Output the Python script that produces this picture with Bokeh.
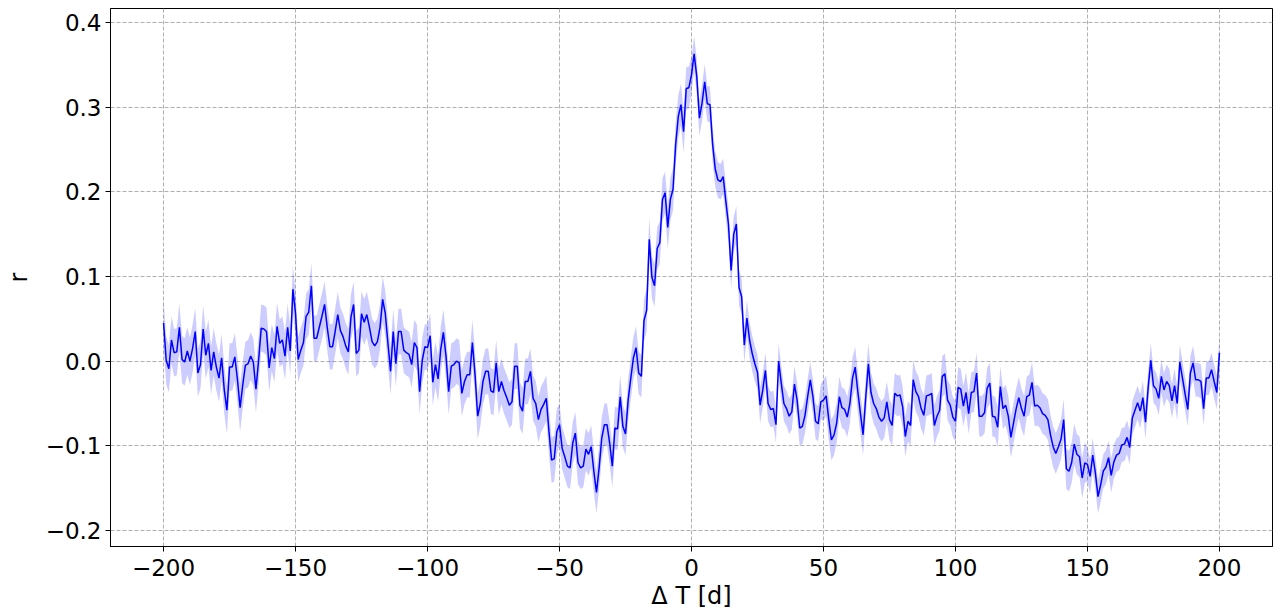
import numpy as np
from bokeh.plotting import figure
from bokeh.models import FixedTicker, Range1d
from bokeh.embed import file_html
from bokeh.resources import INLINE

# lag in days
days = list(range(-200, 201))

# correlation r per day
r_m200_m152 = [0.045, 0.001, -0.009, 0.025, 0.010, 0.011, 0.040, 0.002, -0.001, 0.012,
               0.000, 0.015, 0.035, -0.014, -0.004, 0.038, 0.007, 0.021, -0.011, 0.011,
               -0.007, -0.020, 0.004, -0.034, -0.058, -0.007, -0.007, 0.005, -0.022, -0.055,
               -0.028, -0.005, -0.003, 0.006, -0.001, -0.033, 0.001, 0.039, 0.038, 0.035,
               -0.008, 0.016, 0.003, 0.041, 0.021, 0.025, 0.006, 0.040, 0.012]
r_m151_m100 = [0.085, 0.056, 0.002, 0.013, 0.022, 0.053, 0.058, 0.089, 0.027, 0.027,
               0.040, 0.053, 0.067, 0.040, 0.017, 0.017, 0.035, 0.055, 0.036, 0.029,
               0.018, 0.011, 0.052, 0.067, 0.009, 0.013, 0.056, 0.046, 0.055, 0.040,
               0.023, 0.018, 0.023, 0.040, 0.073, 0.056, 0.021, -0.012, 0.035, -0.003,
               0.035, 0.035, 0.013, 0.010, 0.008, -0.004, 0.022, 0.016, -0.036, 0.001,
               0.017, 0.016]
r_m99_m51 = [0.030, -0.025, -0.004, -0.021, 0.014, 0.034, 0.006, -0.036, -0.006, -0.004,
             0.000, -0.002, -0.038, -0.024, -0.016, -0.016, 0.022, -0.016, -0.065, -0.050,
             -0.024, -0.012, -0.012, -0.035, -0.037, -0.002, -0.036, -0.024, -0.035, -0.043,
             -0.052, -0.048, -0.006, -0.006, -0.052, -0.059, -0.024, -0.024, -0.012, -0.044,
             -0.050, -0.069, -0.057, -0.051, -0.044, -0.083, -0.117, -0.115, -0.083]
r_m50_p1 = [-0.075, -0.103, -0.113, -0.124, -0.126, -0.097, -0.085, -0.120, -0.126, -0.124,
            -0.104, -0.110, -0.101, -0.130, -0.155, -0.126, -0.091, -0.075, -0.075, -0.097,
            -0.124, -0.079, -0.080, -0.042, -0.077, -0.086, -0.046, -0.020, 0.004, 0.016,
            -0.014, -0.018, 0.048, 0.060, 0.144, 0.099, 0.089, 0.133, 0.140, 0.191,
            0.199, 0.158, 0.191, 0.203, 0.256, 0.289, 0.303, 0.271, 0.322, 0.323,
            0.338, 0.363]
r_p2_p54 = [0.336, 0.287, 0.305, 0.330, 0.304, 0.303, 0.256, 0.227, 0.214, 0.212,
            0.218, 0.189, 0.162, 0.107, 0.150, 0.162, 0.087, 0.076, 0.019, 0.051,
            0.025, 0.009, -0.003, -0.013, -0.052, -0.034, -0.011, -0.050, -0.057, -0.056,
            -0.075, 0.000, -0.026, -0.050, -0.056, -0.065, -0.060, -0.027, -0.046, -0.079,
            -0.077, -0.064, -0.042, -0.022, -0.042, -0.071, -0.074, -0.048, -0.046, -0.041,
            -0.069, -0.093, -0.087]
r_p55_p105 = [-0.073, -0.042, -0.055, -0.057, -0.066, -0.050, -0.020, -0.007, -0.036, -0.062,
              -0.087, -0.043, -0.003, -0.037, -0.050, -0.056, -0.066, -0.071, -0.067, -0.048,
              -0.069, -0.076, -0.038, -0.041, -0.040, -0.054, -0.089, -0.071, -0.076, -0.022,
              -0.036, -0.042, -0.056, -0.064, -0.041, -0.040, -0.038, -0.076, -0.065, -0.058,
              -0.018, -0.015, -0.046, -0.052, -0.066, -0.071, -0.031, -0.033, -0.053, -0.037,
              -0.062]
r_p106_p156 = [-0.037, -0.036, -0.014, -0.065, -0.065, -0.061, -0.032, -0.026, -0.065, -0.066,
               -0.078, -0.030, -0.056, -0.052, -0.065, -0.090, -0.073, -0.056, -0.043, -0.056,
               -0.065, -0.042, -0.040, -0.025, -0.053, -0.052, -0.055, -0.062, -0.064, -0.069,
               -0.087, -0.101, -0.109, -0.101, -0.092, -0.069, -0.127, -0.130, -0.120, -0.098,
               -0.110, -0.113, -0.138, -0.120, -0.122, -0.136, -0.111, -0.132, -0.160, -0.146,
               -0.130]
r_p157_p200 = [-0.125, -0.114, -0.135, -0.119, -0.111, -0.109, -0.099, -0.098, -0.090, -0.102,
               -0.067, -0.058, -0.049, -0.059, -0.043, -0.072, -0.031, 0.001, -0.029, -0.033,
               -0.044, -0.018, -0.034, -0.024, -0.029, -0.047, -0.029, -0.050, -0.001, -0.020,
               -0.039, -0.057, -0.014, -0.002, -0.022, -0.022, -0.024, -0.056, -0.020, -0.020,
               -0.010, -0.024, -0.037, 0.010]

# half-width of the shaded band, per block of lags
band_block_starts = [-200, -150, -100, -50, 0, 50, 100, 150]
band_halfwidth = [0.028, 0.027, 0.027, 0.025, 0.021, 0.024, 0.024, 0.020]

x_ticks = [-200, -150, -100, -50, 0, 50, 100, 150, 200]
x_tick_labels = ["\u2212200", "\u2212150", "\u2212100", "\u221250", "0", "50", "100", "150", "200"]
y_ticks = [-0.2, -0.1, 0.0, 0.1, 0.2, 0.3, 0.4]
y_tick_labels = ["\u22120.2", "\u22120.1", "0.0", "0.1", "0.2", "0.3", "0.4"]

r = np.array(r_m200_m152 + r_m151_m100 + r_m99_m51 + r_m50_p1 + r_p2_p54
             + r_p55_p105 + r_p106_p156 + r_p157_p200)
x = np.array(days)
idx = np.searchsorted(band_block_starts, x, side="right") - 1
err = np.array(band_halfwidth)[idx]

p = figure(width=1274, height=612, output_backend="svg", toolbar_location=None,
           x_range=Range1d(-220.1, 220.1), y_range=Range1d(-0.2189, 0.4165),
           min_border_left=110, min_border_right=2, min_border_top=8, min_border_bottom=60)
p.background_fill_color = "white"
p.border_fill_color = "white"
p.outline_line_color = "black"
p.outline_line_width = 1
p.outline_line_alpha = 1

p.varea(x=x, y1=r - err, y2=r + err, fill_color="#0000ff", fill_alpha=0.2)
p.line(x=x, y=r, line_color="#0000ff", line_width=1.5)

FONT = "DejaVu Sans"
for ax in (p.xaxis[0], p.yaxis[0]):
    ax.major_label_text_font = FONT
    ax.major_label_text_font_size = "23px"
    ax.major_label_text_color = "black"
    ax.axis_label_text_font = FONT
    ax.axis_label_text_font_size = "24px"
    ax.axis_label_text_font_style = "normal"
    ax.axis_label_text_color = "black"
    ax.axis_line_color = "black"
    ax.major_tick_line_color = "black"
    ax.major_tick_out = 5
    ax.major_tick_in = 0
    ax.minor_tick_line_color = None

p.xaxis.major_label_standoff = 7
p.yaxis.major_label_standoff = 4
p.xaxis.ticker = FixedTicker(ticks=x_ticks)
p.yaxis.ticker = FixedTicker(ticks=y_ticks)
p.xaxis.major_label_overrides = {t: l for t, l in zip(x_ticks, x_tick_labels)}
p.yaxis.major_label_overrides = {t: l for t, l in zip(y_ticks, y_tick_labels)}
p.xaxis.axis_label = "\u0394 T [d]"
p.yaxis.axis_label = "r"
p.xaxis.axis_label_standoff = 3
p.yaxis.axis_label_standoff = 10

for g in (p.xgrid[0], p.ygrid[0]):
    g.grid_line_color = "#b0b0b0"
    g.grid_line_dash = "4 2"
    g.grid_line_width = 1

open("out.html", "w").write(file_html(p, INLINE))
